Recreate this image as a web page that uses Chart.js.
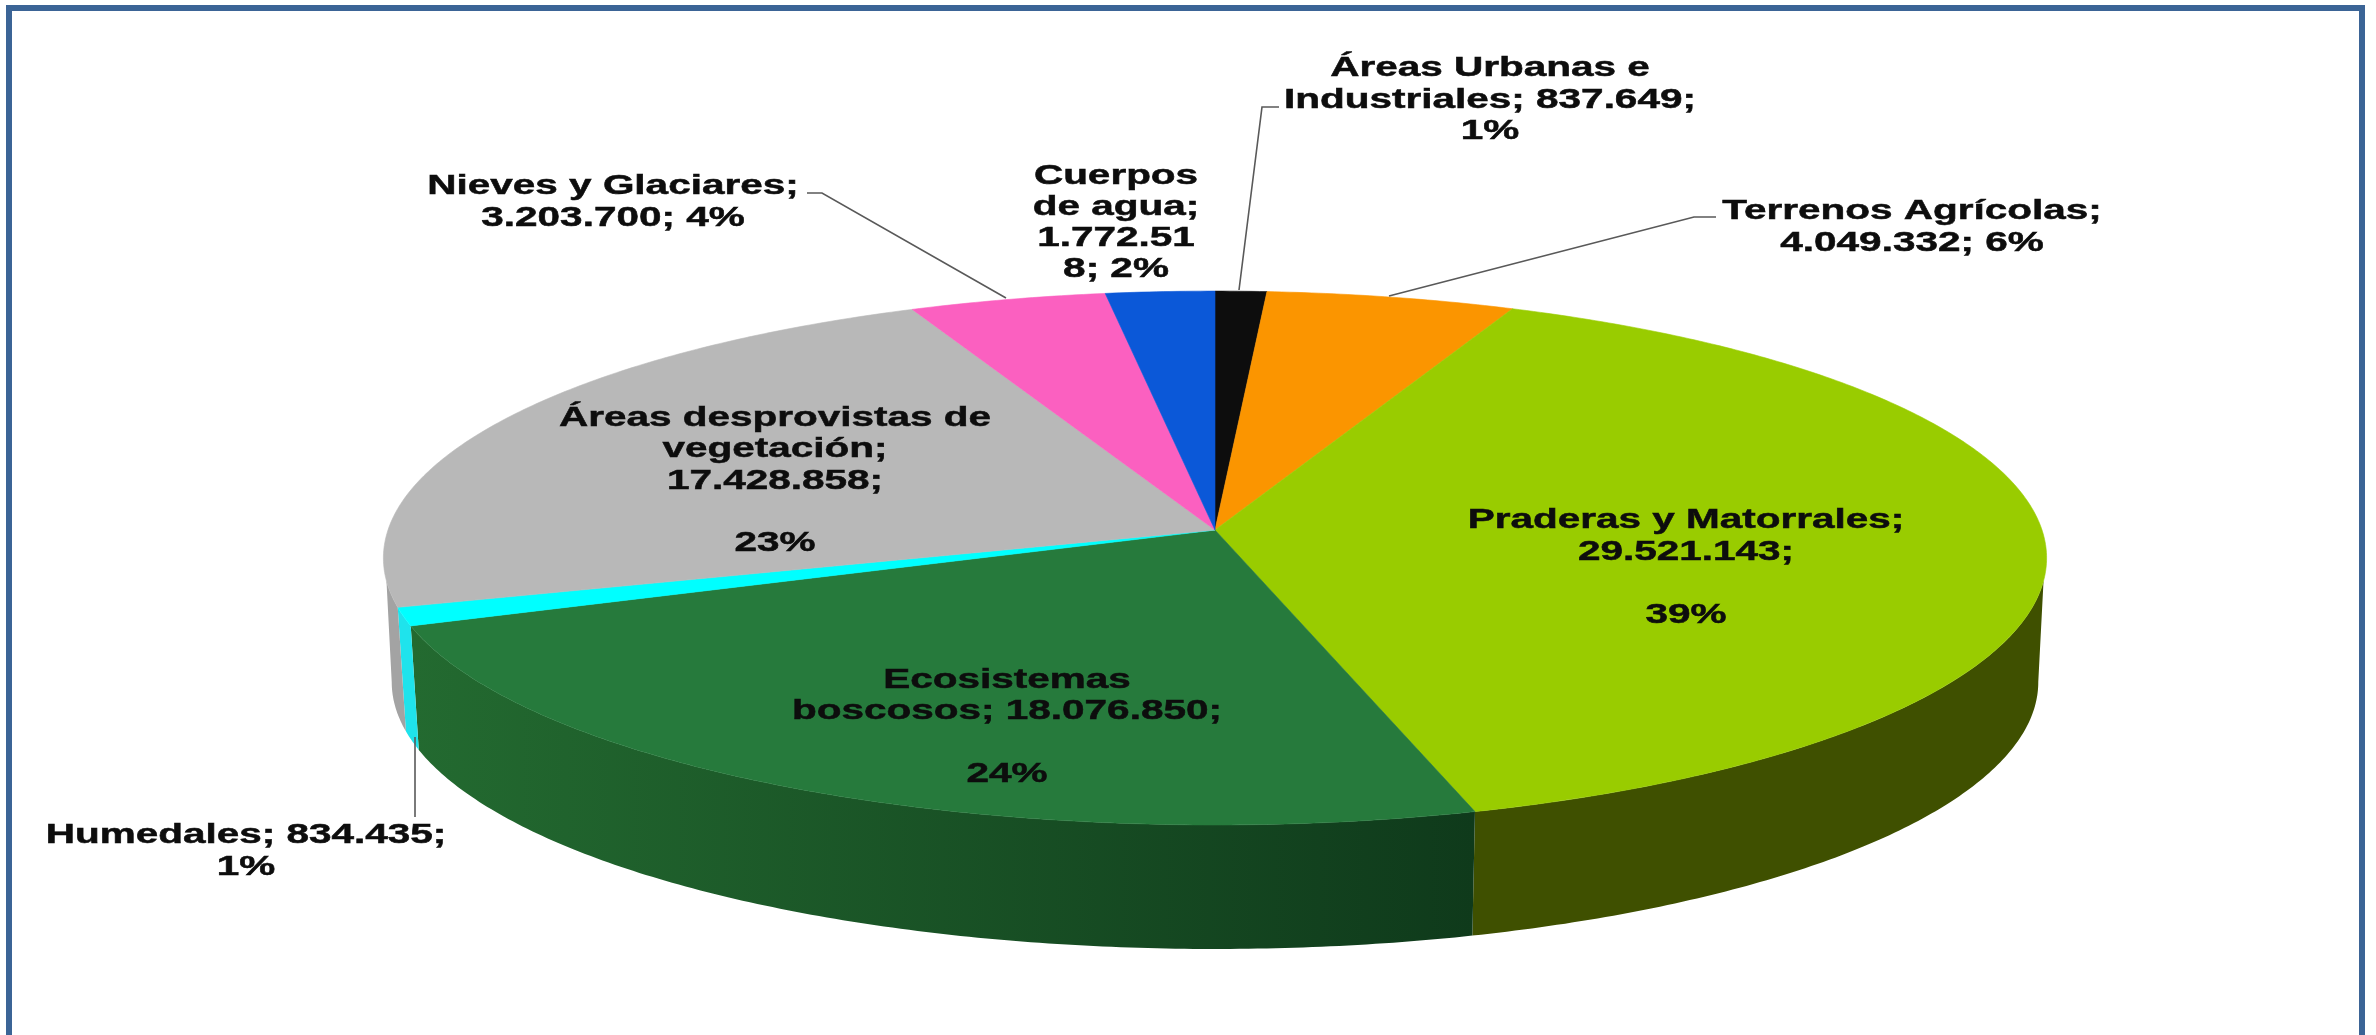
<!DOCTYPE html>
<html><head><meta charset="utf-8">
<style>
html,body{margin:0;padding:0;background:#fff;width:2376px;height:1035px;overflow:hidden}
#wrap{position:absolute;left:0;top:0;width:2376px;height:1035px}
#frame{position:absolute;left:6px;top:5px;width:2347px;height:1100px;border:6px solid #3b6496;box-sizing:content-box}
canvas{position:absolute;left:0;top:0}
</style>
<script src="https://cdn.jsdelivr.net/npm/chart.js@4"></script>
</head><body>
<div id="wrap"><div id="frame"></div><canvas id="c" width="2376" height="1035"></canvas></div>
<script>
const categories = ["Áreas Urbanas e Industriales","Terrenos Agrícolas","Praderas y Matorrales","Ecosistemas boscosos","Humedales","Áreas desprovistas de vegetación","Nieves y Glaciares","Cuerpos de agua"];
const areaValues = [837649,4049332,29521143,18076850,834435,17428858,3203700,1772518];
const topColors = ["#0d0d0d","#fb9500","#99cc00","#267a3c","#00ffff","#b8b8b8","#fb60c0","#0b58d8"];
const wallColors = [null,null,"#3f5000",["#236a30","#0f3a1b"],"#1fe3ec","#a3a3a3",null,null];
const labelLines = [
 ["Áreas Urbanas e","Industriales; 837.649;","1%"],
 ["Terrenos Agrícolas;","4.049.332; 6%"],
 ["Praderas y Matorrales;","29.521.143;","","39%"],
 ["Ecosistemas","boscosos; 18.076.850;","","24%"],
 ["Humedales; 834.435;","1%"],
 ["Áreas desprovistas de","vegetación;","17.428.858;","","23%"],
 ["Nieves y Glaciares;","3.203.700; 4%"],
 ["Cuerpos","de agua;","1.772.51","8; 2%"]
];
const labelCenterX = [1490,1912,1686,1007,246,775,613,1116];
const labelFirstBaseline = [76,219,528,688,843,426,194,184];
const labelLineGap = [31.5,32,31.5,31.3,31.5,31.3,32,31];
const leaders = [
 [[1279,107],[1262,107],[1239,290]],
 [[1716,217],[1694,217],[1389,296]],
 null,null,
 [[415,737],[415,817]],
 null,
 [[807,193],[822,193],[1006,298]],
 null
];
const APEX_X=1215, APEX_Y=530, RX=827, RY=264, K=0.105, DEPTH=124, BOTTOM_SCALE_X=0.99;
const TEXT_STRETCH=1.446;
const RIM_TOP_TURN=0.19, RIM_BOTTOM_TURN=0.105;

function project(theta, lower){
  const u=Math.cos(theta), v=Math.sin(theta), w=1-K*v;
  const s=lower?BOTTOM_SCALE_X:1;
  return [APEX_X+s*RX*u/w, APEX_Y+RY*v/w+(lower?DEPTH:0)];
}
function tracePath(ctx,a0,a1,lower,first){
  const n=Math.max(2,Math.ceil(Math.abs(a1-a0)/0.01));
  for(let i=0;i<=n;i++){
    const p=project(a0+(a1-a0)*i/n,lower);
    if(i===0&&first)ctx.moveTo(p[0],p[1]);else ctx.lineTo(p[0],p[1]);
  }
}
const pie3d={
  id:'pie3d',
  beforeDatasetDraw(chart,args){
    const ctx=chart.ctx, arcs=args.meta.data;
    ctx.save();
    arcs.forEach((arc,i)=>{
      const wc=wallColors[i]; if(!wc)return;
      const t0=Math.max(arc.startAngle,RIM_TOP_TURN), t1=Math.min(arc.endAngle,Math.PI-RIM_TOP_TURN);
      const b0=Math.max(arc.startAngle,RIM_BOTTOM_TURN), b1=Math.min(arc.endAngle,Math.PI-RIM_BOTTOM_TURN);
      if(b1<=b0)return;
      ctx.beginPath();
      if(t1>t0){tracePath(ctx,t0,t1,false,true);tracePath(ctx,b1,b0,true,false);}
      else {tracePath(ctx,b1,b0,true,true);}
      ctx.closePath();
      if(Array.isArray(wc)){
        const g=ctx.createLinearGradient(project(t1,false)[0],0,project(t0,false)[0],0);
        g.addColorStop(0,wc[0]);g.addColorStop(1,wc[1]);
        ctx.fillStyle=g;
      } else ctx.fillStyle=wc;
      ctx.fill();
    });
    arcs.forEach((arc,i)=>{
      ctx.beginPath();
      ctx.moveTo(APEX_X,APEX_Y);
      tracePath(ctx,arc.startAngle,arc.endAngle,false,false);
      ctx.closePath();
      ctx.fillStyle=arc.options.backgroundColor;
      ctx.strokeStyle=arc.options.backgroundColor;
      ctx.lineWidth=0.6;
      ctx.fill();ctx.stroke();
    });
    ctx.restore();
    return false;
  },
  afterDatasetsDraw(chart){
    const ctx=chart.ctx;
    ctx.save();
    ctx.strokeStyle="#595959";ctx.lineWidth=1.6;
    leaders.forEach(l=>{ if(!l)return;
      ctx.beginPath();l.forEach((p,i)=>i?ctx.lineTo(p[0],p[1]):ctx.moveTo(p[0],p[1]));ctx.stroke();
    });
    ctx.fillStyle="#0d0d0d";ctx.strokeStyle="#0d0d0d";ctx.lineWidth=0.5;
    ctx.textAlign="center";ctx.textBaseline="alphabetic";
    ctx.font='bold 28px "Liberation Sans"';
    labelLines.forEach((lines,i)=>{
      lines.forEach((t,j)=>{
        if(!t)return;
        ctx.save();
        ctx.translate(labelCenterX[i],labelFirstBaseline[i]+j*labelLineGap[i]);
        ctx.scale(TEXT_STRETCH,1);
        ctx.fillText(t,0,0);
        ctx.strokeText(t,0,0);
        ctx.restore();
      });
    });
    ctx.restore();
  }
};
new Chart(document.getElementById('c'),{
  type:'pie',
  data:{labels:categories,datasets:[{data:areaValues,backgroundColor:topColors,borderWidth:0}]},
  options:{responsive:false,animation:false,
    plugins:{legend:{display:false},tooltip:{enabled:false}},
    events:[]},
  plugins:[pie3d]
});
</script>
</body></html>
